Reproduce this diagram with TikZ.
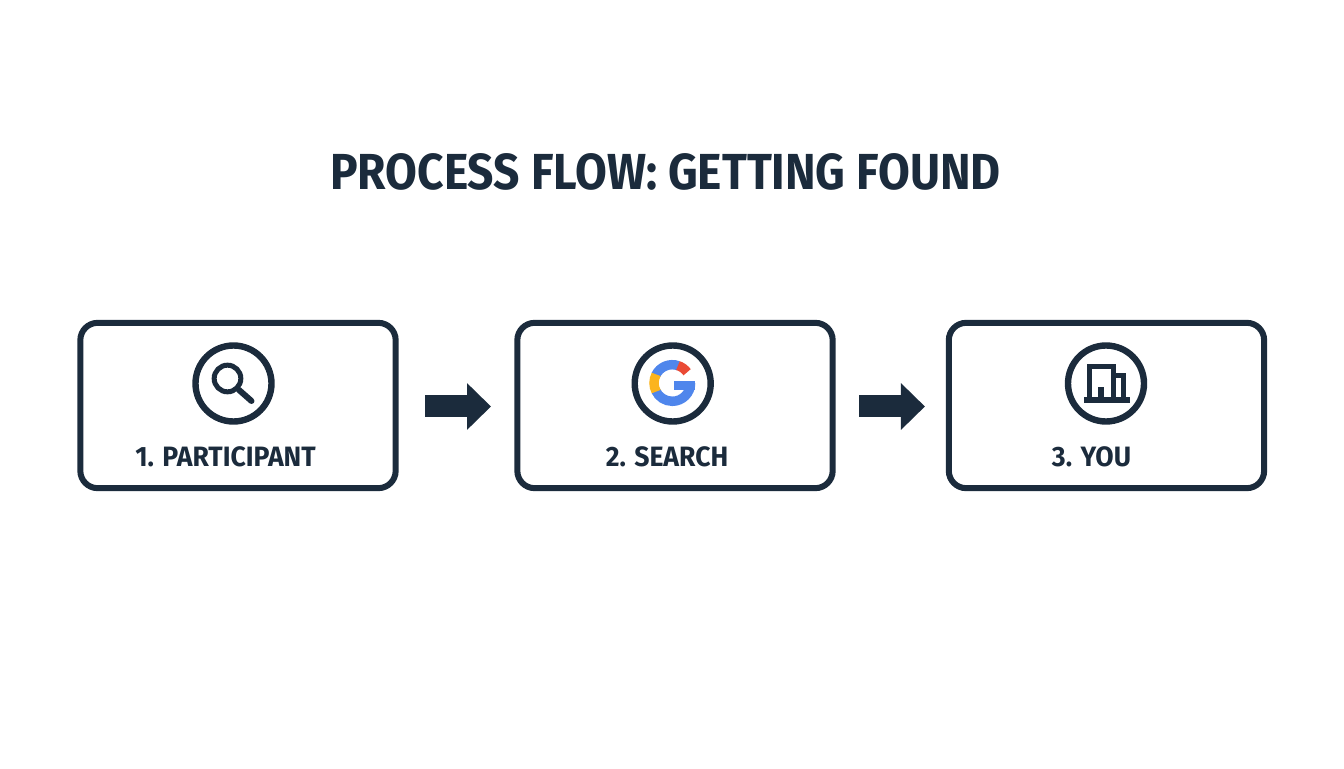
\documentclass[tikz,border=0pt]{standalone}
\usepackage{fontspec}
\setmainfont{Fira Sans}
\newfontfamily\titlefont[FakeStretch=0.91]{Fira Sans}
\newfontfamily\stepfont[FakeStretch=0.95]{Fira Sans}
\usetikzlibrary{arrows.meta}
\definecolor{inkblue}{HTML}{1B2B3C}
\definecolor{gblue}{HTML}{4F86EC}
\definecolor{gred}{HTML}{EA4A35}
\definecolor{gyellow}{HTML}{FBB41E}
\begin{document}
\begin{tikzpicture}[
    x=0.75pt,
    y=0.75pt,
    node distance=327.75pt,
    stepbox/.style={
      rectangle,
      rounded corners=13pt,
      minimum width=236.5pt,
      minimum height=124pt,
      draw=inkblue,
      line width=4.5pt,
      outer sep=0pt
    },
    iconring/.style={
      circle,
      minimum size=57pt,
      inner sep=0pt,
      draw=inkblue,
      line width=4.8pt,
      outer sep=0pt
    },
    steplabel/.style={
      font=\fontsize{21}{24}\stepfont\bfseries,
      text=inkblue,
      inner sep=0pt,
      anchor=base
    },
    flowarrow/.style={
      draw=inkblue,
      line width=16.5pt,
      -{Triangle[length=18pt,width=34pt]}
    },
    icondraw/.style={
      draw=inkblue,
      line width=3.75pt
    },
    gstroke/.style={
      line width=7.1pt
    }
  ]
    \useasboundingbox (0,0) rectangle (1344,768);

    % Title
    \node (title) [font=\fontsize{38}{44}\titlefont\bfseries, text=inkblue, inner sep=0pt, anchor=base] at (665.5,578) {PROCESS FLOW: GETTING FOUND};

    % Boxes
    \node (participant) [stepbox] at (238,362.5) {};
    \node (search) [stepbox, right of=participant] {};
    \node (you) [stepbox, right of=search, node distance=323.6pt] {};

    % Arrows between the boxes
    \draw [flowarrow, shorten <=22pt, shorten >=19.75pt] ([yshift=-0.75pt]participant.east) -- ([yshift=-0.75pt]search.west);
    \draw [flowarrow, shorten <=19.75pt, shorten >=17.9pt] ([yshift=-0.75pt]search.east) -- ([yshift=-0.75pt]you.west);

    % Icon rings
    \node (lensring) [iconring] at (233.5,384.5) {};
    \node (gring) [iconring] at (672.7,384.5) {};
    \node (buildring) [iconring] at (1106,384.5) {};

    % Magnifier
    \node (lens) [circle, minimum size=20pt, inner sep=0pt, icondraw] at (227.5,389.5) {};
    \draw [icondraw, line cap=round, line width=4.5pt] (lens.-45) -- (251.5,367);

    % G mark
    \coordinate (gcentre) at (672.3,385);
    \draw [gblue, gstroke] (gcentre) ++(0:18.3) arc (0:-155:18.3);
    \draw [gblue, gstroke] (gcentre) ++(155:18.3) arc (155:70:18.3);
    \draw [gyellow, gstroke] (gcentre) ++(152:18.3) arc (152:208:18.3);
    \draw [gred, gstroke] (gcentre) ++(72:18.3) arc (72:36:18.3);
    \fill [gblue] (673.7,387) rectangle (695.3,378);

    % Building
    \draw [icondraw] (1089.8,370) |- (1113.3,401.5) -- (1113.3,370);
    \draw [icondraw] (1113.3,392.8) -| (1123.3,370);
    \fill [inkblue] (1098.3,371) rectangle (1104.3,380.7);
    \fill [inkblue] (1084,364.7) rectangle (1130,371.3);

    % Labels
    \node (lblparticipant) [steplabel] at (225.5,301) {1. PARTICIPANT};
    \node (lblsearch) [steplabel] at (667,301) {2. SEARCH};
    \node (lblyou) [steplabel] at (1091.5,301) {3. YOU};

  \end{tikzpicture}
\end{document}
